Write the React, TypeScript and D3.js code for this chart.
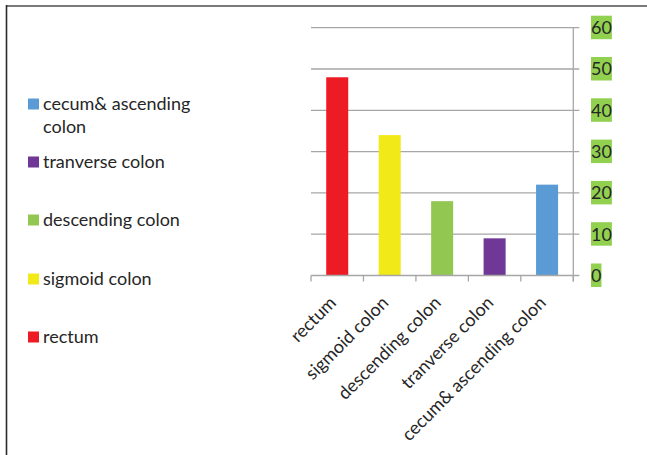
import React, { useEffect, useRef } from 'react';
import * as d3 from 'd3';

const categories = ['rectum', 'sigmoid colon', 'descending colon', 'tranverse colon', 'cecum& ascending colon'];
const values = [48, 34, 18, 9, 22];
const colors = ['#ED1C24', '#F2E918', '#92C852', '#6F3896', '#5B9BD5'];
const yTicks = [0, 10, 20, 30, 40, 50, 60];
// legend lists the series bottom-up, with the first label wrapped
const legendLines = [['cecum& ascending', 'colon'], ['tranverse colon'], ['descending colon'], ['sigmoid colon'], ['rectum']];
const legendColors = ['#5B9BD5', '#6F3896', '#92C852', '#F2E918', '#ED1C24'];

const FONT = 'Lato, "Open Sans", sans-serif';

const App = () => {
  const svgRef = useRef<SVGSVGElement>(null);

  useEffect(() => {
    document.body.style.margin = '0';
    const svg = d3.select(svgRef.current);
    svg.selectAll('*').remove();

    const width = 647;
    const height = 455;
    const left = 311;
    const right = 573.3;
    const fs = 18;
    const textColor = '#262626';
    const lineColor = '#A6A6A6';

    svg.attr('width', width).attr('height', height);
    svg.append('rect').attr('width', width).attr('height', height).attr('fill', '#fff');

    // frame
    svg.append('line').attr('x1', 6).attr('x2', width).attr('y1', 6).attr('y2', 6)
      .attr('stroke', '#7a7a7a').attr('stroke-width', 2);
    svg.append('line').attr('x1', 6.5).attr('x2', 6.5).attr('y1', 5).attr('y2', height)
      .attr('stroke', '#2b2b2b').attr('stroke-width', 1.6);

    const x = d3.scaleBand<string>()
      .domain(categories)
      .range([left, right])
      .paddingInner(0.58)
      .paddingOuter(0.29);

    const y = d3.scaleLinear().domain([0, 60]).range([275.5, 27.7]);

    const step = x.step();

    // gridlines + right ticks
    svg.append('g').selectAll('line')
      .data(yTicks.filter(t => t > 0))
      .enter().append('line')
      .attr('x1', left).attr('x2', right + 6)
      .attr('y1', d => y(d)).attr('y2', d => y(d))
      .attr('stroke', lineColor).attr('stroke-width', 1.3);

    // bars
    svg.append('g').selectAll('rect')
      .data(values)
      .enter().append('rect')
      .attr('x', (d, i) => x(categories[i]) as number)
      .attr('y', d => y(d))
      .attr('width', x.bandwidth())
      .attr('height', d => y(0) - y(d))
      .attr('fill', (d, i) => colors[i]);

    // bottom axis
    svg.append('line').attr('x1', left).attr('x2', right + 6)
      .attr('y1', y(0)).attr('y2', y(0))
      .attr('stroke', lineColor).attr('stroke-width', 1.3);
    svg.append('g').selectAll('line')
      .data(d3.range(categories.length + 1))
      .enter().append('line')
      .attr('x1', i => left + i * step).attr('x2', i => left + i * step)
      .attr('y1', y(0)).attr('y2', y(0) + 6)
      .attr('stroke', lineColor).attr('stroke-width', 1.3);

    // right axis
    svg.append('line').attr('x1', right).attr('x2', right)
      .attr('y1', y(60)).attr('y2', y(0) + 6)
      .attr('stroke', lineColor).attr('stroke-width', 1.3);

    // y labels with green highlight
    const yl = svg.append('g').selectAll('g')
      .data(yTicks)
      .enter().append('g')
      .attr('transform', d => `translate(591,${y(d)})`);
    const ylText = yl.append('text')
      .attr('dy', '0.36em')
      .attr('font-family', FONT).attr('font-size', fs)
      .attr('fill', textColor)
      .text(d => String(d));
    ylText.each(function () {
      const w = (this as SVGTextElement).getComputedTextLength();
      d3.select((this as SVGTextElement).parentNode as SVGGElement)
        .insert('rect', 'text')
        .attr('x', 0).attr('y', -12)
        .attr('width', w).attr('height', 23.5)
        .attr('fill', '#92D050');
    });

    // x labels rotated
    svg.append('g').selectAll('text')
      .data(categories)
      .enter().append('text')
      .attr('transform', d => `translate(${(x(d) as number) + x.bandwidth() / 2},304) rotate(-45)`)
      .attr('text-anchor', 'end')
      .attr('font-family', FONT).attr('font-size', fs)
      .attr('fill', textColor)
      .text(d => d);

    // legend
    const legendY = [104, 162, 220, 279, 337];
    const lg = svg.append('g').selectAll('g')
      .data(legendLines)
      .enter().append('g')
      .attr('transform', (d, i) => `translate(28,${legendY[i]})`);
    lg.append('rect')
      .attr('x', 0).attr('y', -5.5)
      .attr('width', 11).attr('height', 11)
      .attr('fill', (d, i) => legendColors[i]);
    lg.each(function (lines) {
      const t = d3.select(this).append('text')
        .attr('font-family', FONT).attr('font-size', fs)
        .attr('fill', textColor);
      lines.forEach((ln, k) => {
        t.append('tspan').attr('x', 15).attr('y', 6 + k * 23).text(ln);
      });
    });
  }, []);

  return <svg ref={svgRef} style={{ display: 'block' }}></svg>;
};

export default App;
